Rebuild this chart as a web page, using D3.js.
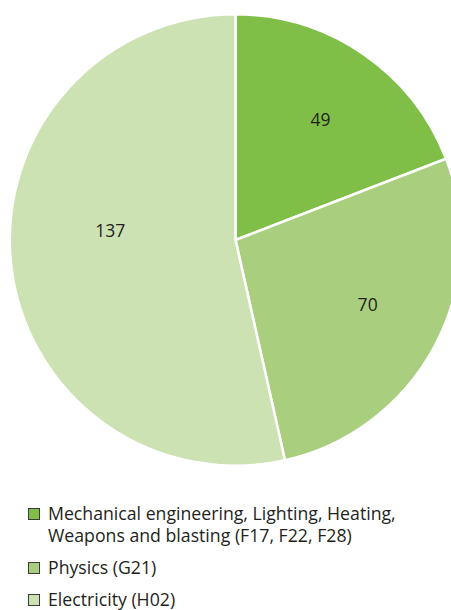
<!DOCTYPE html>
<html>
<head>
<meta charset="utf-8">
<script src="https://cdn.jsdelivr.net/npm/d3@7"></script>
<style>
  html, body { margin: 0; padding: 0; background: #fff; }
  svg { display: block; }
  text { font-family: "Open Sans", "Noto Sans", sans-serif; }
</style>
</head>
<body>
<svg id="chart" width="451" height="610"></svg>
<script>
// Patent families by technology field
const categories = [
  "Mechanical engineering, Lighting, Heating, Weapons and blasting (F17, F22, F28)",
  "Physics (G21)",
  "Electricity (H02)"
];
const legendLines = [
  ["Mechanical engineering, Lighting, Heating,", "Weapons and blasting (F17, F22, F28)"],
  ["Physics (G21)"],
  ["Electricity (H02)"]
];
const values = [49, 70, 137];
const colors = ["#7fbf48", "#a9cf7e", "#cce2b2"];

const W = 451, H = 610;
const cx = 235.5, cy = 240, R = 225.7;

const svg = d3.select("#chart");
const data = categories.map((c, i) => ({ name: c, value: values[i], color: colors[i] }));

const pie = d3.pie().value(d => d.value).sort(null);
const arcs = pie(data);
const arc = d3.arc().innerRadius(0).outerRadius(R);

const g = svg.append("g").attr("transform", `translate(${cx},${cy})`);

g.selectAll("path.slice")
  .data(arcs)
  .enter().append("path")
  .attr("class", "slice")
  .attr("d", arc)
  .attr("fill", d => d.data.color)
  .attr("stroke", "#fff")
  .attr("stroke-width", 2.5)
  .attr("stroke-linejoin", "round");

// value labels: radius as a fraction of R, angle nudged from the slice bisector (degrees)
const labelFrac = [0.652, 0.652, 0.557];
const labelNudge = [0.8, -2.0, 10.8];
g.selectAll("text.val")
  .data(arcs)
  .enter().append("text")
  .attr("class", "val")
  .attr("transform", (d, i) => {
    const a = (d.startAngle + d.endAngle) / 2 + labelNudge[i] * Math.PI / 180;
    const r = R * labelFrac[i];
    return `translate(${r * Math.sin(a)},${-r * Math.cos(a)})`;
  })
  .attr("text-anchor", "middle")
  .attr("dy", "0.36em")
  .attr("font-size", 17.5)
  .attr("font-weight", 500)
  .attr("fill", "#231f20")
  .text(d => d.data.value);

// legend
const legendY = [514, 568, 600];
const lineH = 22;
const lg = svg.append("g");
data.forEach((d, i) => {
  const row = lg.append("g").attr("transform", `translate(28,${legendY[i]})`);
  row.append("rect")
    .attr("x", 0.5).attr("y", -5.5)
    .attr("width", 11).attr("height", 11)
    .attr("fill", d.color)
    .attr("stroke", "#3a3a3a")
    .attr("stroke-width", 1);
  const t = row.append("text")
    .attr("x", 20)
    .attr("y", 0)
    .attr("font-size", 17.7)
    .attr("font-weight", 500)
    .attr("fill", "#231f20");
  legendLines[i].forEach((ln, j) => {
    t.append("tspan").attr("x", 20).attr("y", j * lineH).attr("dy", "0.36em").text(ln);
  });
});
</script>
</body>
</html>
